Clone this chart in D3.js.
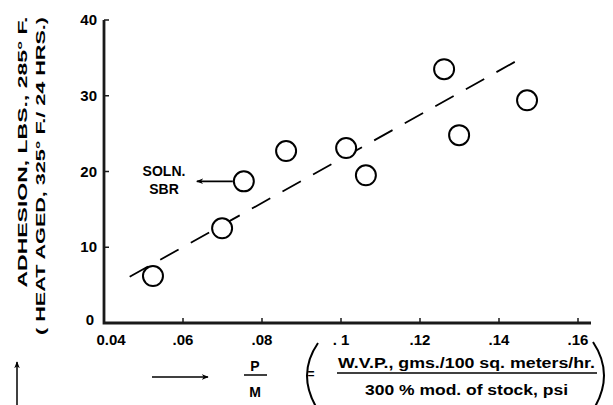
<!DOCTYPE html>
<html lang="en">
<head>
<meta charset="utf-8">
<style>
  html, body { margin:0; padding:0; background:#fff; overflow:hidden }
  svg { display:block }
  text { font-family: "Liberation Sans", Arial, sans-serif; fill:#000 }
</style>
</head>
<body>
<svg width="613" height="405"></svg>
<script src="https://cdn.jsdelivr.net/npm/d3@7/dist/d3.min.js"></script>
<script>
// values
var ratioPM = [0.0524, 0.0699, 0.0754, 0.0861, 0.1013, 0.1063, 0.1261, 0.1299, 0.1471];
var adhesion = [6.2, 12.5, 18.7, 22.7, 23.1, 19.5, 33.5, 24.8, 29.4];
var trendX = [0.0465, 0.1441];
var trendY = [6.1, 34.5];
var xTicks = [0.04, 0.06, 0.08, 0.10, 0.12, 0.14, 0.16];
var xTickLabels = ["0.04", ".06", ".08", ". 1", ".12", ".14", ".16"];
var yTicks = [0, 10, 20, 30, 40];

var svg = d3.select("svg");

var x = d3.scaleLinear().domain([0.04, 0.16]).range([104, 578]);
var y = d3.scaleLinear().domain([0, 40]).range([323, 20]);

// axis frame as one filled L-shape
var x0 = x(0.04), y0 = y(0), yTop = y(40), w = 1.4;
svg.append("polygon")
    .attr("points", [
        [x0 - w, yTop], [x0 + w, yTop], [x0 + w, y0 - w], [591, y0 - w],
        [591, y0 + w], [x0 - w, y0 + w]
    ].map(function (p) { return p.join(","); }).join(" "))
    .attr("fill", "#1a1a1a");

// ticks
svg.selectAll(".xtick")
    .data(xTicks)
    .enter()
    .append("line")
    .attr("class", "xtick")
    .attr("x1", function (d) { return x(d); }).attr("x2", function (d) { return x(d); })
    .attr("y1", y0).attr("y2", y0 - 5)
    .attr("stroke", "#1a1a1a").attr("stroke-width", 1.5);
svg.selectAll(".xlab")
    .data(xTicks)
    .enter()
    .append("text")
    .attr("class", "xlab")
    .attr("x", function (d, i) { return x(d) + (i == 0 ? 7 : 0); })
    .attr("y", y0 + 22)
    .attr("text-anchor", "middle")
    .attr("font-size", 15).attr("font-weight", "bold")
    .text(function (d, i) { return xTickLabels[i]; });

svg.selectAll(".ytick")
    .data(yTicks)
    .enter()
    .append("line")
    .attr("class", "ytick")
    .attr("x1", x0).attr("x2", x0 + 5)
    .attr("y1", function (d) { return y(d); }).attr("y2", function (d) { return y(d); })
    .attr("stroke", "#1a1a1a").attr("stroke-width", 1.5);
svg.selectAll(".ylab")
    .data(yTicks)
    .enter()
    .append("text")
    .attr("class", "ylab")
    .attr("x", function (d) { return d == 0 ? x0 - 10 : x0 - 7; })
    .attr("y", function (d) { return d == 0 ? y(d) + 2 : y(d) + 5; })
    .attr("text-anchor", "end")
    .attr("font-size", 15).attr("font-weight", "bold")
    .text(function (d) { return d; });

// trend line
svg.append("line")
    .attr("x1", x(trendX[0])).attr("y1", y(trendY[0]))
    .attr("x2", x(trendX[1])).attr("y2", y(trendY[1]))
    .attr("stroke", "#000")
    .attr("stroke-width", 1.8)
    .attr("stroke-dasharray", "21,14");

// points
svg.selectAll(".pt")
    .data(ratioPM)
    .enter()
    .append("circle")
    .attr("class", "pt")
    .attr("cx", function (d) { return x(d); })
    .attr("cy", function (d, i) { return y(adhesion[i]); })
    .attr("r", 10)
    .attr("fill", "#fff")
    .attr("stroke", "#000")
    .attr("stroke-width", 2);

// arrow marker
svg.append("defs").append("marker")
    .attr("id", "head")
    .attr("viewBox", "0 -5 10 10")
    .attr("refX", 9).attr("refY", 0)
    .attr("markerWidth", 7).attr("markerHeight", 7)
    .attr("markerUnits", "userSpaceOnUse")
    .attr("orient", "auto")
    .append("path")
    .attr("d", "M0,-4 L10,0 L0,4 L3,0 Z")
    .attr("fill", "#000");

// SOLN. SBR annotation
var sx = x(ratioPM[2]), sy = y(adhesion[2]);
svg.append("line")
    .attr("x1", sx - 11).attr("y1", sy)
    .attr("x2", sx - 47).attr("y2", sy)
    .attr("stroke", "#000").attr("stroke-width", 1.8)
    .attr("marker-end", "url(#head)");
svg.append("text").attr("x", 164).attr("y", 176)
    .attr("text-anchor", "middle").attr("font-size", 14).attr("font-weight", "bold")
    .text("SOLN.");
svg.append("text").attr("x", 164).attr("y", 194)
    .attr("text-anchor", "middle").attr("font-size", 14).attr("font-weight", "bold")
    .text("SBR");

// y axis title
svg.append("text")
    .attr("transform", "translate(27,152) rotate(-90)")
    .attr("text-anchor", "middle")
    .attr("font-size", 13).attr("font-weight", "bold")
    .attr("textLength", 271).attr("lengthAdjust", "spacingAndGlyphs")
    .text("ADHESION, LBS., 285° F.");
svg.append("text")
    .attr("transform", "translate(45,176) rotate(-90)")
    .attr("text-anchor", "middle")
    .attr("font-size", 13).attr("font-weight", "bold")
    .attr("textLength", 318).attr("lengthAdjust", "spacingAndGlyphs")
    .text("( HEAT AGED,  325° F./ 24 HRS.)");

// bottom notes
svg.append("line")
    .attr("x1", 17).attr("y1", 405)
    .attr("x2", 17).attr("y2", 362)
    .attr("stroke", "#000").attr("stroke-width", 1.5)
    .attr("marker-end", "url(#head)");
svg.append("line")
    .attr("x1", 152).attr("y1", 377)
    .attr("x2", 208).attr("y2", 377)
    .attr("stroke", "#000").attr("stroke-width", 1.5)
    .attr("marker-end", "url(#head)");

svg.append("text").attr("x", 255).attr("y", 371)
    .attr("text-anchor", "middle").attr("font-size", 14).attr("font-weight", "bold")
    .text("P");
svg.append("line")
    .attr("x1", 244).attr("y1", 375).attr("x2", 267).attr("y2", 375)
    .attr("stroke", "#000").attr("stroke-width", 1.5);
svg.append("text").attr("x", 255).attr("y", 397)
    .attr("text-anchor", "middle").attr("font-size", 14).attr("font-weight", "bold")
    .text("M");

svg.append("path")
    .attr("d", "M318,343 Q296,375 318,410")
    .attr("fill", "none").attr("stroke", "#000").attr("stroke-width", 2);
svg.append("path")
    .attr("d", "M593,342 Q615,375 593,410")
    .attr("fill", "none").attr("stroke", "#000").attr("stroke-width", 2);

svg.append("text").attr("x", 311).attr("y", 378)
    .attr("text-anchor", "middle").attr("font-size", 12).attr("font-weight", "bold")
    .text("=");
svg.append("text").attr("x", 338).attr("y", 368)
    .attr("font-size", 14).attr("font-weight", "bold")
    .attr("textLength", 257).attr("lengthAdjust", "spacingAndGlyphs")
    .text("W.V.P., gms./100 sq. meters/hr.");
svg.append("line")
    .attr("x1", 337).attr("y1", 373).attr("x2", 597).attr("y2", 373)
    .attr("stroke", "#000").attr("stroke-width", 1.5);
svg.append("text").attr("x", 365).attr("y", 395)
    .attr("font-size", 14).attr("font-weight", "bold")
    .attr("textLength", 203).attr("lengthAdjust", "spacingAndGlyphs")
    .text("300 % mod. of stock, psi");
</script>
</body>
</html>
